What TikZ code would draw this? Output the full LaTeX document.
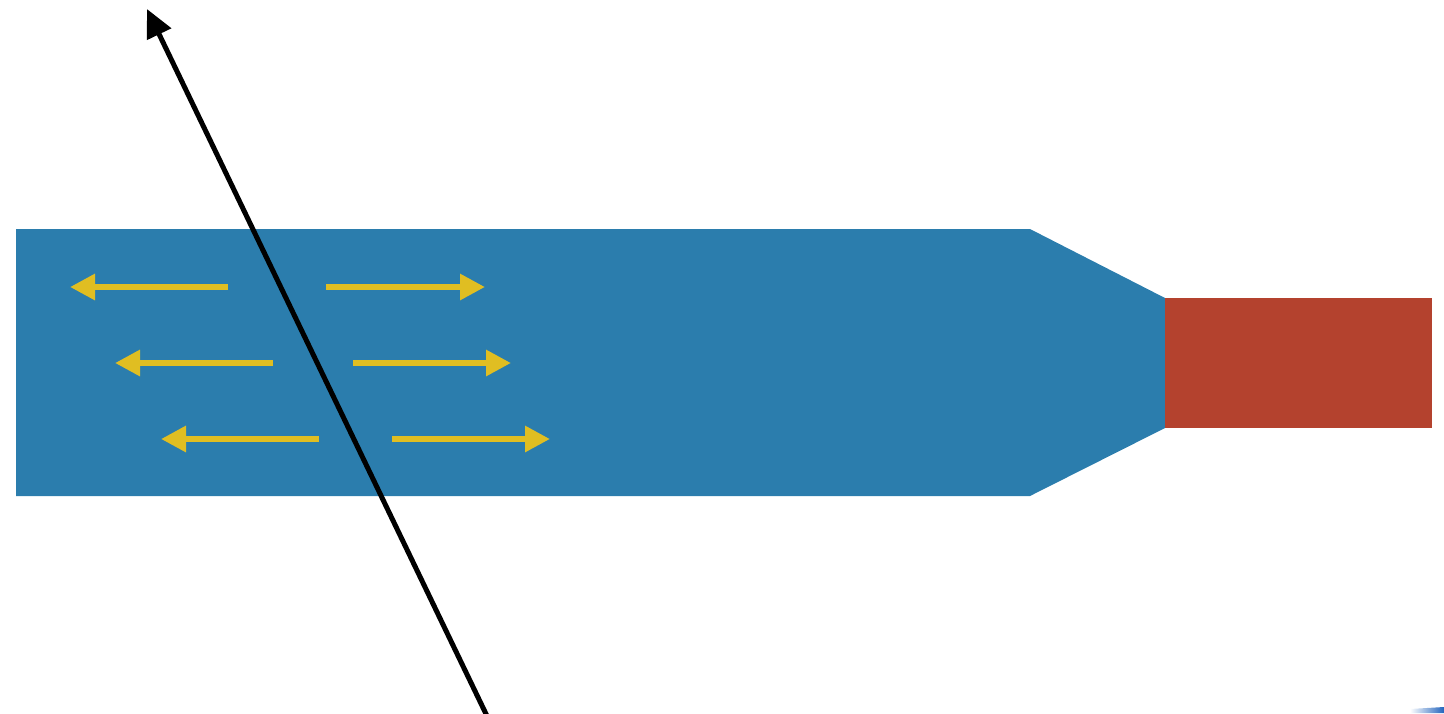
\documentclass[tikz,border=0pt]{standalone}
\usetikzlibrary{arrows.meta}
\definecolor{tankblue}{RGB}{43,125,173}
\definecolor{plugred}{RGB}{180,66,46}
\definecolor{flowyellow}{RGB}{224,190,34}
\tikzset{
  flow/.style={draw=flowyellow,line width=6pt,-{Triangle[length=25pt,width=25pt]}},
  ray/.style={draw=black,line width=5pt,-{Triangle[length=28pt,width=26pt]}}
}
\begin{document}
\begin{tikzpicture}[x=1pt,y=-1pt]
\useasboundingbox (0,0) rectangle (1444,713);
% blue body with taper
\fill[tankblue] (16,229) -- (1030,229) -- (1165,298) -- (1165,428) -- (1030,496) -- (16,496) -- cycle;
% red block
\fill[plugred] (1165,298) rectangle (1432,428);
% sliver bottom right
\shade[left color=white,right color=tankblue!80!blue] (1410,709) -- (1444,707) -- (1444,713) -- (1410,713) -- cycle;
% yellow arrows
\coordinate (l1s) at (228,287); \coordinate (l1e) at (70,287);
\coordinate (r1s) at (326,287); \coordinate (r1e) at (485,287);
\coordinate (l2s) at (273,363); \coordinate (l2e) at (115,363);
\coordinate (r2s) at (353,363); \coordinate (r2e) at (511,363);
\coordinate (l3s) at (319,439); \coordinate (l3e) at (161,439);
\coordinate (r3s) at (392,439); \coordinate (r3e) at (550,439);
\draw[flow] (l1s) -- (l1e);
\draw[flow] (r1s) -- (r1e);
\draw[flow] (l2s) -- (l2e);
\draw[flow] (r2s) -- (r2e);
\draw[flow] (l3s) -- (l3e);
\draw[flow] (r3s) -- (r3e);
% black ray
\coordinate (rayA) at (487,716);
\coordinate (rayB) at (147,9);
\draw[ray] (rayA) -- (rayB);
\end{tikzpicture}
\end{document}
